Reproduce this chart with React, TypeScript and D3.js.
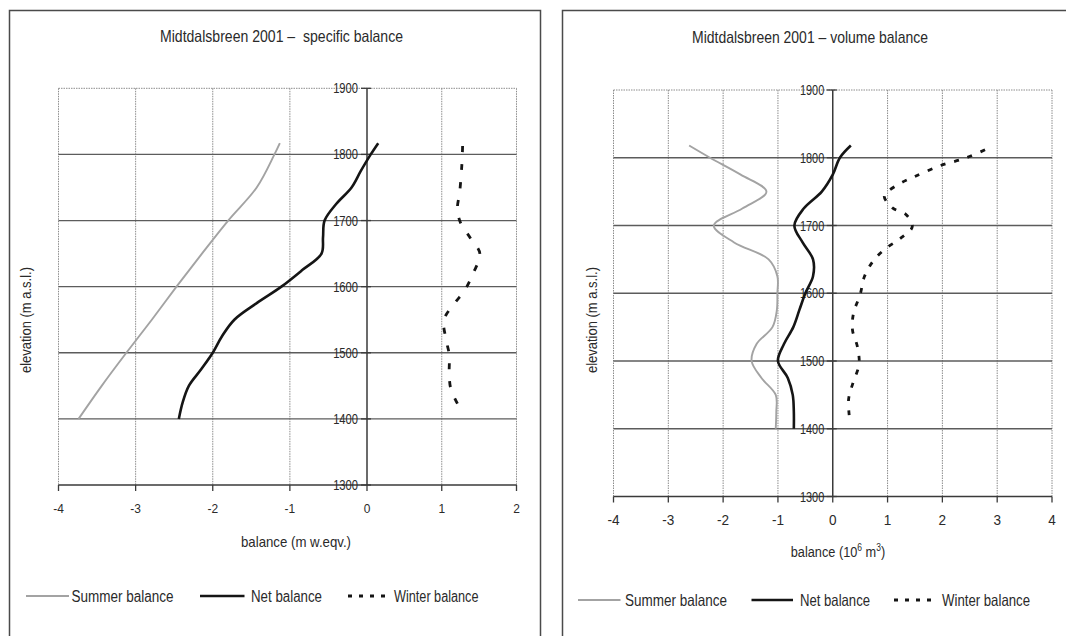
import React from 'react';
import * as d3 from 'd3';

// ---------- shared axis values ----------
const elevTicks = [1300, 1400, 1500, 1600, 1700, 1800, 1900];
const specTicks = [-4, -3, -2, -1, 0, 1, 2];
const volTicks = [-4, -3, -2, -1, 0, 1, 2, 3, 4];

// ---------- left chart: specific balance (m w.eqv.) ----------
const specSummerElev = [1400, 1450, 1500, 1550, 1600, 1650, 1700, 1750, 1800, 1817];
const specSummer = [-3.74, -3.44, -3.12, -2.79, -2.47, -2.14, -1.8, -1.43, -1.2, -1.13];

const specNetElev = [1400, 1425, 1450, 1475, 1500, 1525, 1550, 1575, 1600, 1625, 1650, 1675, 1700, 1725, 1750, 1775, 1800, 1817];
const specNet = [-2.44, -2.39, -2.31, -2.15, -2.0, -1.88, -1.72, -1.43, -1.11, -0.84, -0.59, -0.57, -0.55, -0.4, -0.2, -0.08, 0.05, 0.15];

const specWinterElev = [1423, 1446, 1469, 1497, 1519, 1550, 1576, 1595, 1620, 1650, 1674, 1697, 1718, 1743, 1786, 1817];
const specWinter = [1.21, 1.12, 1.1, 1.1, 1.06, 1.03, 1.18, 1.31, 1.42, 1.51, 1.38, 1.25, 1.21, 1.24, 1.27, 1.28];

// ---------- right chart: volume balance (10^6 m^3) ----------
const volSummerElev = [1400, 1425, 1450, 1475, 1500, 1525, 1550, 1575, 1600, 1625, 1650, 1675, 1700, 1725, 1750, 1775, 1800, 1818];
const volSummer = [-1.04, -1.03, -1.04, -1.3, -1.48, -1.39, -1.1, -1.02, -1.01, -1.01, -1.17, -1.8, -2.17, -1.65, -1.21, -1.68, -2.24, -2.62];

const volNetElev = [1400, 1425, 1450, 1475, 1500, 1525, 1550, 1575, 1600, 1625, 1650, 1675, 1700, 1725, 1750, 1775, 1800, 1818];
const volNet = [-0.71, -0.71, -0.73, -0.82, -1.0, -0.89, -0.72, -0.61, -0.5, -0.36, -0.36, -0.55, -0.7, -0.53, -0.2, 0.0, 0.13, 0.33];

const volWinterElev = [1420, 1444, 1468, 1495, 1521, 1546, 1571, 1598, 1625, 1650, 1668, 1680, 1698, 1716, 1726, 1743, 1751, 1763, 1772, 1788, 1800, 1817];
const volWinter = [0.3, 0.29, 0.37, 0.48, 0.45, 0.36, 0.38, 0.5, 0.58, 0.76, 1.0, 1.22, 1.45, 1.34, 1.09, 0.94, 1.02, 1.25, 1.49, 1.95, 2.44, 2.92];

const legendLabels = ['Summer balance', 'Net balance', 'Winter balance'];

const FONT = "'Liberation Sans', Arial, Helvetica, sans-serif";
const TXT = '#2a2a2a';

type TxtProps = {
  x: number; y: number; size: number; anchor?: string; len?: number; sx?: number; rot?: number; children: React.ReactNode;
};
function Txt({ x, y, size, anchor = 'start', len, sx = 1, rot = 0, children }: TxtProps) {
  let tf = `translate(${x},${y})`;
  if (rot) tf += ` rotate(${rot})`;
  if (sx !== 1) tf += ` scale(${sx},1)`;
  return (
    <text
      transform={tf}
      fontSize={size}
      textAnchor={anchor as any}
      fontFamily={FONT}
      fill={TXT}
      textLength={len}
      lengthAdjust={len ? 'spacingAndGlyphs' : undefined}
      style={{ whiteSpace: 'pre' }}
    >
      {children}
    </text>
  );
}

const SUMMER = { stroke: '#a3a3a3', width: 1.9 };
const NET = { stroke: '#151515', width: 2.6 };
const WINTER = { stroke: '#151515', width: 2.8 };

type PanelCfg = {
  xDomain: number[]; xRange: number[]; xTicks: number[];
  yTop: number; yBottom: number;
  series: { summer: [number[], number[]]; net: [number[], number[]]; winter: [number[], number[]] };
  winterDash: string;
  title: { text: string; x: number; y: number; size: number; len: number };
  xTick: { base: number; size: number; sx: number };
  yTick: { gap: number; size: number; sx: number };
  xTitle: React.ReactNode;
  yTitle: { x: number; y: number; size: number; len: number };
  legend: { lineY: number; base: number; size: number; items: { x0: number; x1: number; tx: number; len: number }[] };
};

function Panel({ c }: { c: PanelCfg }) {
  const x = d3.scaleLinear().domain(c.xDomain).range(c.xRange);
  const y = d3.scaleLinear().domain([1300, 1900]).range([c.yBottom, c.yTop]);
  const line = d3
    .line<[number, number]>()
    .x((d) => x(d[0]))
    .y((d) => y(d[1]))
    .curve(d3.curveCatmullRom.alpha(0.5));
  const path = (s: [number[], number[]]) => line(s[1].map((v, i) => [v, s[0][i]]) as [number, number][]) || '';
  const xl = x(c.xTicks[0]);
  const xr = x(c.xTicks[c.xTicks.length - 1]);
  const ax = x(0);
  const yb = y(1300);
  const yt = y(1900);
  const dotted = { stroke: '#8c8c8c', strokeWidth: 1, strokeDasharray: '1.5,1' };
  const lg = c.legend;
  return (
    <g>
      {/* vertical gridlines + plot borders */}
      {c.xTicks.filter((t) => t !== 0).map((t) => (
        <line key={'v' + t} x1={x(t)} x2={x(t)} y1={yt} y2={yb} {...dotted} />
      ))}
      <line x1={xl} x2={xr} y1={yt} y2={yt} {...dotted} />
      {/* horizontal gridlines */}
      {elevTicks.filter((e) => e !== 1300 && e !== 1900).map((e) => (
        <line key={'h' + e} x1={xl} x2={xr} y1={y(e)} y2={y(e)} stroke="#5c5c5c" strokeWidth={1.3} />
      ))}
      {/* axes */}
      <line x1={xl} x2={xr} y1={yb} y2={yb} stroke="#3a3a3a" strokeWidth={1.5} />
      <line x1={ax} x2={ax} y1={yt} y2={yb} stroke="#3a3a3a" strokeWidth={1.5} />
      {c.xTicks.map((t) => (
        <line key={'xt' + t} x1={x(t)} x2={x(t)} y1={yb} y2={yb + 6} stroke="#3a3a3a" strokeWidth={1.3} />
      ))}
      {elevTicks.map((e) => (
        <line key={'yt' + e} x1={ax - 6} x2={ax + 4} y1={y(e)} y2={y(e)} stroke="#3a3a3a" strokeWidth={1.3} />
      ))}
      {/* tick labels */}
      {c.xTicks.map((t) => (
        <Txt key={'xl' + t} x={x(t)} y={c.xTick.base} size={c.xTick.size} sx={c.xTick.sx} anchor="middle">
          {String(t)}
        </Txt>
      ))}
      {elevTicks.map((e) => (
        <Txt key={'yl' + e} x={ax - c.yTick.gap} y={y(e) + c.yTick.size * 0.36} size={c.yTick.size} sx={c.yTick.sx} anchor="end">
          {String(e)}
        </Txt>
      ))}
      {/* series */}
      <path d={path(c.series.summer)} fill="none" stroke={SUMMER.stroke} strokeWidth={SUMMER.width} />
      <path d={path(c.series.net)} fill="none" stroke={NET.stroke} strokeWidth={NET.width} strokeLinejoin="round" />
      <path d={path(c.series.winter)} fill="none" stroke={WINTER.stroke} strokeWidth={WINTER.width} strokeDasharray={c.winterDash} />
      {/* titles */}
      <Txt x={c.title.x} y={c.title.y} size={c.title.size} len={c.title.len} anchor="middle">
        {c.title.text}
      </Txt>
      {c.xTitle}
      <Txt x={c.yTitle.x} y={c.yTitle.y} size={c.yTitle.size} len={c.yTitle.len} anchor="middle" rot={-90}>
        elevation (m a.s.l.)
      </Txt>
      {/* legend */}
      <line x1={lg.items[0].x0} x2={lg.items[0].x1} y1={lg.lineY} y2={lg.lineY} stroke={SUMMER.stroke} strokeWidth={SUMMER.width} />
      <line x1={lg.items[1].x0} x2={lg.items[1].x1} y1={lg.lineY} y2={lg.lineY} stroke={NET.stroke} strokeWidth={NET.width} />
      <line x1={lg.items[2].x0} x2={lg.items[2].x1} y1={lg.lineY} y2={lg.lineY} stroke={WINTER.stroke} strokeWidth={3} strokeDasharray="4,7" />
      {lg.items.map((it, i) => (
        <Txt key={'lg' + i} x={it.tx} y={lg.base} size={lg.size} len={it.len}>
          {legendLabels[i]}
        </Txt>
      ))}
    </g>
  );
}

const leftCfg: PanelCfg = {
  xDomain: [-4, 0, 2],
  xRange: [58.5, 367, 516.5],
  xTicks: specTicks,
  yTop: 88.3,
  yBottom: 485,
  series: {
    summer: [specSummerElev, specSummer],
    net: [specNetElev, specNet],
    winter: [specWinterElev, specWinter],
  },
  winterDash: '6,12',
  title: { text: 'Midtdalsbreen 2001 –  specific balance', x: 281.5, y: 41.5, size: 16.5, len: 243 },
  xTick: { base: 513, size: 13, sx: 0.92 },
  yTick: { gap: 9, size: 14, sx: 0.8 },
  xTitle: (
    <Txt x={296} y={546.5} size={14.5} len={110} anchor="middle">
      balance (m w.eqv.)
    </Txt>
  ),
  yTitle: { x: 31, y: 320, size: 14, len: 106 },
  legend: {
    lineY: 596,
    base: 601.5,
    size: 16,
    items: [
      { x0: 26, x1: 69, tx: 71.5, len: 102 },
      { x0: 200, x1: 244.5, tx: 251, len: 71 },
      { x0: 348, x1: 390, tx: 394, len: 84.5 },
    ],
  },
};

const rightCfg: PanelCfg = {
  xDomain: [-4, 4],
  xRange: [613.5, 1052],
  xTicks: volTicks,
  yTop: 90,
  yBottom: 496.5,
  series: {
    summer: [volSummerElev, volSummer],
    net: [volNetElev, volNet],
    winter: [volWinterElev, volWinter],
  },
  winterDash: '5,9',
  title: { text: 'Midtdalsbreen 2001 – volume balance', x: 810, y: 42.5, size: 17, len: 236 },
  xTick: { base: 525, size: 14, sx: 0.97 },
  yTick: { gap: 8.5, size: 14, sx: 0.78 },
  xTitle: (
    <text transform="translate(838,556.5) scale(0.85,1)" fontSize={15} textAnchor="middle" fontFamily={FONT} fill={TXT}>
      balance (10
      <tspan dy={-6} fontSize={10}>6</tspan>
      <tspan dy={6}> m</tspan>
      <tspan dy={-6} fontSize={10}>3</tspan>
      <tspan dy={6}>)</tspan>
    </text>
  ),
  yTitle: { x: 597, y: 320, size: 14.5, len: 106 },
  legend: {
    lineY: 600,
    base: 605.5,
    size: 16.5,
    items: [
      { x0: 578, x1: 620.5, tx: 625, len: 102 },
      { x0: 751.5, x1: 793, tx: 800, len: 70 },
      { x0: 894, x1: 938, tx: 942, len: 88 },
    ],
  },
};

export default function App() {
  return (
    <svg
      width={1066}
      height={636}
      viewBox="0 0 1066 636"
      style={{ position: 'absolute', left: 0, top: 0, background: '#fff' }}
    >
      <rect x={0} y={0} width={1066} height={636} fill="#fff" />
      <rect x={9.5} y={10.5} width={531} height={700} fill="none" stroke="#4a4a4a" strokeWidth={1.5} />
      <rect x={562.5} y={10.5} width={600} height={700} fill="none" stroke="#4a4a4a" strokeWidth={1.5} />
      <Panel c={leftCfg} />
      <Panel c={rightCfg} />
    </svg>
  );
}
